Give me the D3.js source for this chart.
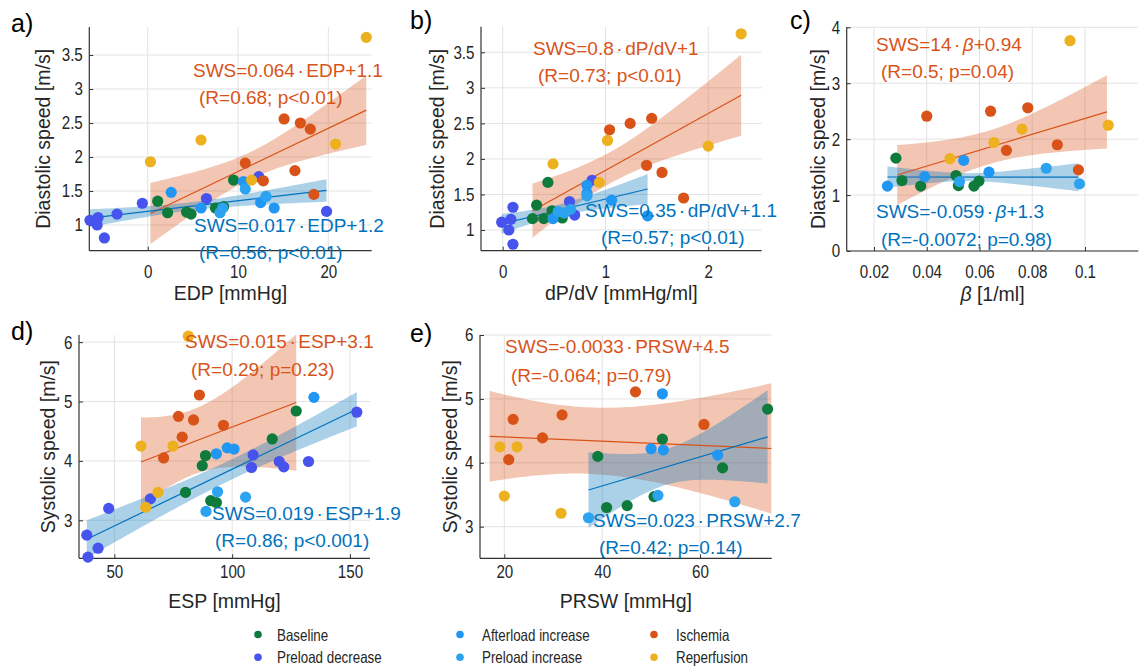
<!DOCTYPE html>
<html><head><meta charset="utf-8">
<script src="https://cdn.jsdelivr.net/npm/d3@7"></script>
<style>
body{margin:0;background:#fff}
svg{display:block}
.tick text{font-family:'Liberation Sans',Arial,sans-serif;font-size:18.5px;fill:#262626}
</style>
</head><body>
<svg id="fig" width="1146" height="669"></svg>
<script>
// ---------------- DATA ----------------
const groups = ["Baseline","Preload decrease","Afterload increase","Preload increase","Ischemia","Reperfusion"];
const groupColors = ["#0e7a3c","#4653ec","#2196f3","#2ba3f0","#d95319","#edb120"];

// Panel a: EDP [mmHg] vs diastolic speed [m/s]
const edpBaseline = [[1.1,1.35],[2.2,1.18],[4.3,1.19],[4.8,1.16],[7.5,1.25],[8.4,1.27],[9.5,1.66]];
const edpPreloadDec = [[-6.4,1.07],[-5.5,1.11],[-5.6,1.00],[-4.8,0.81],[-3.4,1.16],[-0.6,1.32],[6.5,1.39],[12.3,1.71],[19.8,1.20]];
const edpAfterload = [[2.6,1.48],[5.9,1.25],[10.6,1.64],[12.5,1.33],[14.0,1.25]];
const edpPreloadInc = [[8.0,1.18],[8.3,1.25],[10.8,1.53],[13.1,1.42]];
const edpIschemia = [[15.1,2.56],[16.9,2.50],[18.0,2.41],[10.8,1.91],[16.3,1.80],[12.8,1.65],[18.4,1.45]];
const edpReperfusion = [[24.2,3.76],[0.3,1.93],[5.9,2.25],[20.8,2.19],[11.5,1.66]];

// Panel b: dP/dV [mmHg/ml]
const dpdvBaseline = [[0.44,1.67],[0.33,1.35],[0.29,1.16],[0.40,1.16],[0.48,1.27],[0.58,1.17]];
const dpdvPreloadDec = [[-0.01,1.11],[0.08,1.15],[0.06,1.00],[0.10,0.80],[0.10,1.32],[0.87,1.70],[0.65,1.40],[0.70,1.21]];
const dpdvAfterload = [[0.82,1.63],[0.82,1.52],[0.49,1.16],[1.06,1.42],[1.41,1.20]];
const dpdvPreloadInc = [[0.54,1.26],[0.66,1.29],[0.60,1.24],[0.82,1.48]];
const dpdvIschemia = [[1.04,2.41],[1.24,2.50],[1.45,2.57],[1.40,1.91],[1.55,1.81],[1.76,1.45]];
const dpdvReperfusion = [[2.32,3.76],[0.49,1.93],[1.02,2.26],[2.00,2.18],[0.94,1.67]];

// Panel c: beta [1/ml]
const betaBaseline = [[0.0283,1.66],[0.0306,1.26],[0.0377,1.16],[0.0511,1.35],[0.052,1.17],[0.0579,1.16],[0.0598,1.25]];
const betaPreloadDec = [];
const betaAfterload = [[0.0251,1.16],[0.0392,1.33],[0.054,1.62],[0.0636,1.41]];
const betaPreloadInc = [[0.0524,1.24],[0.0853,1.48],[0.0979,1.20]];
const betaIschemia = [[0.040,2.41],[0.0642,2.50],[0.0783,2.56],[0.0702,1.80],[0.0895,1.90],[0.0975,1.45]];
const betaReperfusion = [[0.0943,3.76],[0.0488,1.65],[0.0655,1.94],[0.0761,2.18],[0.1088,2.25]];

// Panel d: ESP [mmHg] vs systolic speed [m/s]
const espBaseline = [[127.2,4.84],[117.0,4.37],[88.7,4.09],[87.3,3.92],[80.2,3.47],[90.9,3.33],[93.3,3.30]];
const espPreloadDec = [[38.3,2.75],[38.8,2.38],[43.1,2.53],[47.6,3.20],[65.3,3.36],[108.9,4.10],[108.2,3.89],[120.0,3.99],[121.9,3.90],[132.4,3.99],[152.9,4.82]];
const espAfterload = [[134.7,5.07],[93.3,4.12],[97.9,4.22],[100.8,4.20]];
const espPreloadInc = [[93.8,3.48],[105.7,3.39],[88.9,3.15]];
const espIschemia = [[86.1,5.11],[77.2,4.75],[83.6,4.69],[96.3,4.60],[78.8,4.40],[70.9,4.05]];
const espReperfusion = [[81.4,6.10],[61.3,4.25],[74.9,4.25],[68.5,3.47],[63.3,3.22]];

// Panel e: PRSW [mmHg]
const prswBaseline = [[39.1,4.10],[40.9,3.30],[45.1,3.33],[50.6,3.47],[52.3,4.37],[64.6,3.92],[73.8,4.84]];
const prswPreloadDec = [];
const prswAfterload = [[52.3,5.08],[50.0,4.22],[52.5,4.20],[63.6,4.12]];
const prswPreloadInc = [[51.4,3.49],[67.1,3.39],[37.2,3.14]];
const prswIschemia = [[21.8,4.68],[20.9,4.05],[27.8,4.39],[31.8,4.75],[46.8,5.11],[60.8,4.60]];
const prswReperfusion = [[19.1,4.25],[22.6,4.25],[20.0,3.48],[31.6,3.21]];

// Regression fits: [slope, intercept, xStart, xEnd, halfWidthStart, halfWidthEnd, halfWidthMin]
const edpFitRed = [0.0636, 1.15, 0.3, 24.2, 0.45, 0.51, 0.20];
const edpFitBlue = [0.0156, 1.20, -6.4, 19.8, 0.13, 0.165, 0.06];
const dpdvFitRed = [0.80, 1.04, 0.29, 2.32, 0.38, 0.57, 0.22];
const dpdvFitBlue = [0.345, 1.09, -0.01, 1.41, 0.14, 0.21, 0.08];
const betaFitRed = [14.2, 0.95, 0.0288, 0.1083, 0.535, 0.655, 0.30];
const betaFitBlue = [-0.059, 1.325, 0.0251, 0.0975, 0.19, 0.25, 0.07];
const espFitRed = [0.0152, 3.05, 61.3, 127.2, 0.75, 1.15, 0.55];
const espFitBlue = [0.0191, 1.95, 38.3, 152.9, 0.32, 0.29, 0.17];
const prswFitRed = [-0.0033, 4.47, 17.0, 74.6, 0.71, 1.02, 0.52];
const prswFitBlue = [0.0227, 2.73, 37.2, 73.8, 0.59, 0.73, 0.28];

// Equation labels
const edpLabels = ["SWS=0.064·EDP+1.1","(R=0.68; p<0.01)","SWS=0.017·EDP+1.2","(R=0.56; p<0.01)"];
const dpdvLabels = ["SWS=0.8·dP/dV+1","(R=0.73; p<0.01)","SWS=0.35·dP/dV+1.1","(R=0.57; p<0.01)"];
const betaLabels = ["SWS=14·β+0.94","(R=0.5; p=0.04)","SWS=-0.059·β+1.3","(R=-0.0072; p=0.98)"];
const espLabels = ["SWS=0.015·ESP+3.1","(R=0.29; p=0.23)","SWS=0.019·ESP+1.9","(R=0.86; p<0.001)"];
const prswLabels = ["SWS=-0.0033·PRSW+4.5","(R=-0.064; p=0.79)","SWS=0.023·PRSW+2.7","(R=0.42; p=0.14)"];

// Axis limits and ticks
const edpLimits = [-6.47, 24.8], edpTicks = [0, 10, 20];
const dpdvLimits = [-0.211, 2.52], dpdvTicks = [0, 1, 2];
const betaLimits = [0.00965, 0.1202], betaTicks = [0.02, 0.04, 0.06, 0.08, 0.1];
const espLimits = [35.0, 158.5], espTicks = [50, 100, 150];
const prswLimits = [15.03, 74.64], prswTicks = [20, 40, 60];
const diaLimitsA = [0.622, 3.912], diaLimitsB = [0.709, 3.86], diaTicks = [1, 1.5, 2, 2.5, 3, 3.5];
const diaLimitsC = [0, 4], diaTicksC = [0, 1, 2, 3, 4];
const sysLimitsD = [2.36, 6.12], sysLimitsE = [2.505, 6], sysTicks = [3, 4, 5, 6];

// ---------------- LAYOUT ----------------
const RED = "#d95319", BLUE = "#0072bd";
const NARROW = 0.82;
const panels = [
  {letter:"a)", lp:[11,32], box:[89.3,371.7,27,250.7], xl:edpLimits, yl:diaLimitsA, xt:edpTicks, yt:diaTicks,
   xLab:"EDP [mmHg]", yLab:"Diastolic speed [m/s]", yLabX:49.5, tickGap:27.3, labGap:49.5,
   sets:[edpBaseline,edpPreloadDec,edpAfterload,edpPreloadInc,edpIschemia,edpReperfusion],
   fits:[edpFitRed, edpFitBlue], labels:edpLabels, lpos:[[193,77],[199,104],[194,232],[199,259]]},
  {letter:"b)", lp:[410,29], box:[481,761.7,26.7,250.7], xl:dpdvLimits, yl:diaLimitsB, xt:dpdvTicks, yt:diaTicks,
   xLab:"dP/dV [mmHg/ml]", yLab:"Diastolic speed [m/s]", yLabX:443.5, tickGap:27.3, labGap:49.5,
   sets:[dpdvBaseline,dpdvPreloadDec,dpdvAfterload,dpdvPreloadInc,dpdvIschemia,dpdvReperfusion],
   fits:[dpdvFitRed, dpdvFitBlue], labels:dpdvLabels, lpos:[[533,55],[538,82],[585,217],[601,244]]},
  {letter:"c)", lp:[790,29], box:[846.7,1138.3,27.3,251], xl:betaLimits, yl:diaLimitsC, xt:betaTicks, yt:diaTicksC,
   xLab:"β [1/ml]", yLab:"Diastolic speed [m/s]", yLabX:825, tickGap:27, labGap:49.5,
   sets:[betaBaseline,betaPreloadDec,betaAfterload,betaPreloadInc,betaIschemia,betaReperfusion],
   fits:[betaFitRed, betaFitBlue], labels:betaLabels, lpos:[[876,51],[881,78],[876,218],[881,246]]},
  {letter:"d)", lp:[11,340], box:[79,370,335,558.3], xl:espLimits, yl:sysLimitsD, xt:espTicks, yt:sysTicks,
   xLab:"ESP [mmHg]", yLab:"Systolic speed [m/s]", yLabX:55, tickGap:19.5, labGap:49.5,
   sets:[espBaseline,espPreloadDec,espAfterload,espPreloadInc,espIschemia,espReperfusion],
   fits:[espFitRed, espFitBlue], labels:espLabels, lpos:[[185,348],[191,376],[212,520],[215,547]]},
  {letter:"e)", lp:[410,342], box:[480,771.7,335,558.3], xl:prswLimits, yl:sysLimitsE, xt:prswTicks, yt:sysTicks,
   xLab:"PRSW [mmHg]", yLab:"Systolic speed [m/s]", yLabX:457.3, tickGap:19.5, labGap:49.5,
   sets:[prswBaseline,prswPreloadDec,prswAfterload,prswPreloadInc,prswIschemia,prswReperfusion],
   fits:[prswFitRed, prswFitBlue], labels:prswLabels, lpos:[[505,353],[511,382],[593,527],[599,554]]}
];

const svg = d3.select("#fig");
const defs = svg.append("defs");
const FONT = "'Liberation Sans', Arial, Helvetica, sans-serif";

// label text: italic beta, spaced centre dot
function addRichText(sel, str){
  const parts = str.split(/(β|·)/).filter(s=>s);
  let pad = 0;
  parts.forEach(p=>{
    const t = sel.append("tspan").text(p);
    if(pad) t.attr("dx", pad);
    pad = 0;
    if(p === "β") t.attr("font-style","italic");
    if(p === "·") { t.attr("dx", 2.5); pad = 2.5; }
  });
}

function bandWidth(f){
  const [, , x0, x1, h0, h1, hm] = f;
  const r = Math.sqrt((h0*h0-hm*hm)/(h1*h1-hm*hm));
  const xc = (x0 + r*x1)/(1+r);
  const k = (h0*h0-hm*hm)/((xc-x0)*(xc-x0));
  return x => Math.sqrt(hm*hm + k*(x-xc)*(x-xc));
}

panels.forEach((p, pi) => {
  const [L,R,T,B] = p.box;
  const x = d3.scaleLinear().domain(p.xl).range([L,R]);
  const y = d3.scaleLinear().domain(p.yl).range([B,T]);
  const g = svg.append("g");

  // grid
  g.append("g").selectAll("line").data(p.xt).join("line")
    .attr("x1",d=>x(d)).attr("x2",d=>x(d)).attr("y1",T).attr("y2",B)
    .attr("stroke","#e3e3e3").attr("stroke-width",1);
  g.append("g").selectAll("line").data(p.yt).join("line")
    .attr("x1",L).attr("x2",R).attr("y1",d=>y(d)).attr("y2",d=>y(d))
    .attr("stroke","#e3e3e3").attr("stroke-width",1);

  // clip
  const cid = "clip"+pi;
  defs.append("clipPath").attr("id",cid).append("rect")
    .attr("x",L).attr("y",T).attr("width",R-L).attr("height",B-T);
  const plot = g.append("g").attr("clip-path",`url(#${cid})`);

  // bands + lines
  const cols = [RED, BLUE];
  p.fits.forEach((f,fi)=>{
    const [m, b, x0, x1] = f;
    const hw = bandWidth(f);
    const xs = d3.range(0, 81).map(i => x0 + (x1-x0)*i/80);
    const area = d3.area().x(d=>x(d)).y0(d=>y(m*d+b-hw(d))).y1(d=>y(m*d+b+hw(d)));
    plot.append("path").datum(xs).attr("d",area).attr("fill",cols[fi]).attr("fill-opacity",0.33);
  });
  p.fits.forEach((f,fi)=>{
    const [m, b, x0, x1] = f;
    plot.append("path").datum([x0,x1])
      .attr("d", d3.line().x(d=>x(d)).y(d=>y(m*d+b)))
      .attr("stroke", cols[fi]).attr("stroke-width",1.2).attr("fill","none");
  });

  // axes
  const ax = g.append("g").attr("transform",`translate(0,${B})`)
    .call(d3.axisBottom(x).tickValues(p.xt).tickSizeInner(-4).tickSizeOuter(0)
      .tickPadding(p.tickGap-13.2).tickFormat(d=>String(d)));
  const ay = g.append("g").attr("transform",`translate(${L},0)`)
    .call(d3.axisLeft(y).tickValues(p.yt).tickSizeInner(-4).tickSizeOuter(0)
      .tickPadding(6.5).tickFormat(d=>String(d)));
  [ax,ay].forEach(a=>{
    a.select(".domain").attr("stroke","#333").attr("stroke-width",1.2);
    a.selectAll(".tick line").attr("stroke","#333");
    a.selectAll(".tick text").attr("transform",`scale(${NARROW},1)`);
  });
  ay.selectAll(".tick text").attr("x", -6.5/NARROW);
  ax.select(".domain").attr("d",`M${L},0H${R}`);
  ay.select(".domain").attr("d",`M0,${B}V${T}`);

  // points
  p.sets.forEach((s,si)=>{
    g.append("g").selectAll("circle").data(s).join("circle")
      .attr("cx",d=>x(d[0])).attr("cy",d=>y(d[1])).attr("r",5.6)
      .attr("fill",groupColors[si]);
  });

  // axis labels
  const xt = g.append("text").attr("x",(L+R)/2).attr("y",B+p.labGap)
    .attr("text-anchor","middle").attr("font-family",FONT).attr("font-size",19.5).attr("fill","#262626");
  xt.selectAll(null).data(p.xLab.split(/(β)/).filter(s=>s)).join("tspan")
    .attr("font-style",d=>d==="β"?"italic":null).text(d=>d);
  g.append("text").attr("transform",`translate(${p.yLabX},${(T+B)/2}) rotate(-90)`)
    .attr("text-anchor","middle").attr("font-family",FONT).attr("font-size",19.5).attr("fill","#262626")
    .text(p.yLab);

  // panel letter
  g.append("text").attr("x",p.lp[0]).attr("y",p.lp[1]).attr("font-family",FONT)
    .attr("font-size",25).attr("fill","#000").text(p.letter);

  // equation labels
  p.labels.forEach((t,ti)=>{
    const el = g.append("text").attr("x",p.lpos[ti][0]).attr("y",p.lpos[ti][1])
      .attr("font-family",FONT).attr("font-size",19)
      .attr("fill", ti<2 ? RED : BLUE);
    addRichText(el, t);
  });
});

// legend
const legX = [[258,277],[460,482],[654,676]];
const legY = [634.5, 657.3];
const legOrder = [[0,0,0],[1,0,1],[2,1,0],[3,1,1],[4,2,0],[5,2,1]];
const leg = svg.append("g");
legOrder.forEach(([gi,c,r])=>{
  leg.append("circle").attr("cx",legX[c][0]).attr("cy",legY[r]).attr("r",3.8).attr("fill",groupColors[gi]);
  leg.append("text").attr("transform",`translate(${legX[c][1]},${legY[r]+6}) scale(${NARROW},1)`)
    .attr("font-family",FONT).attr("font-size",16.3).attr("fill","#262626").text(groups[gi]);
});
</script>
</body></html>
